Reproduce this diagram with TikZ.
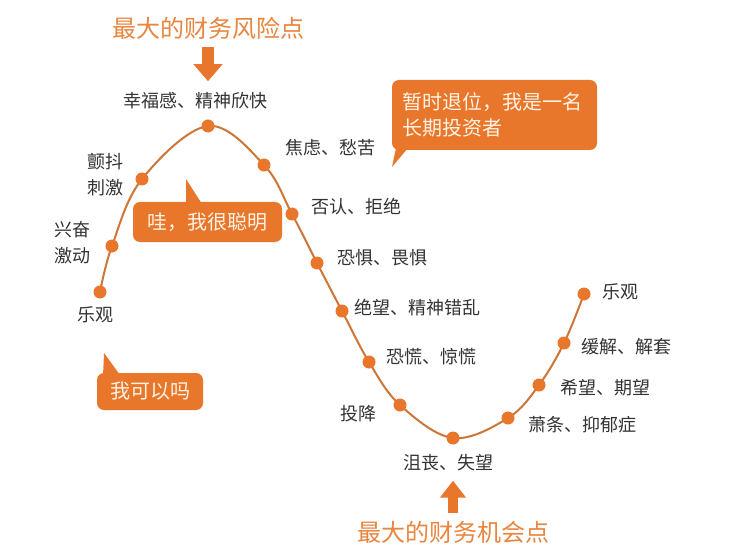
\documentclass[tikz,border=0pt]{standalone}
\usepackage{fontspec}
\setmainfont{Noto Sans CJK SC}
\usetikzlibrary{arrows.meta,positioning,backgrounds}
\definecolor{tangerine}{HTML}{E8762B}
\definecolor{rust}{HTML}{CC7638}
\definecolor{apricot}{HTML}{E8853F}
\definecolor{ink}{HTML}{333333}
\definecolor{cream}{HTML}{FFF4E6}
\tikzset{
  stagedot/.style={circle, fill=tangerine, inner sep=0pt, minimum size=13pt},
  mood/.style={font=\fontsize{18}{26}\selectfont, text=ink,
    inner sep=0pt, align=center},
  headline/.style={font=\fontsize{24}{28}\selectfont, text=apricot,
    inner sep=0pt},
  bubble/.style={rectangle, rounded corners=7pt, fill=tangerine,
    text=cream, font=\fontsize{20}{26}\selectfont, inner sep=0pt,
    align=center},
  bubbletail/.style={fill=tangerine},
  bigarrow/.style={-{Triangle[width=#1, length=17pt]}, line width=12pt,
    draw=tangerine},
  bigarrow/.default=28pt,
  curve/.style={draw=rust, line width=2pt},
}

\begin{document}
\begin{tikzpicture}[x=1pt, y=-1pt]

\path[use as bounding box] (0,0) rectangle (743,553);

% Stages along the cycle
\foreach \x/\y [count=\i] in {100/292, 112/246, 142/179, 208/126, 264/165,
    292/214, 317/263, 342/311, 369/362, 400/405, 453/438, 508/418,
    539/385, 564/343, 584/294}
  \node[stagedot] (d\i) at (\x,\y) {};

\begin{scope}[on background layer]
  \fill[white] (0,0) rectangle (743,553);
  \draw[curve] plot[smooth, tension=0.6] coordinates {(d1.center) (d2.center)
    (d3.center) (d4.center) (d5.center) (d6.center) (d7.center) (d8.center)
    (d9.center) (d10.center) (d11.center) (d12.center) (d13.center)
    (d14.center) (d15.center)};
\end{scope}

% Stage labels
\node[mood, below=8pt of d1, xshift=-5pt] (l1) {乐观};
\node[mood, left=15pt of d2, yshift=3pt] (l2) {兴奋\\激动};
\node[mood, left=12pt of d3, yshift=4pt] (l3) {颤抖\\刺激};
\node[mood, above=10pt of d4, xshift=-13pt] (l4) {幸福感、精神欣快};
\node[mood, right=15pt of d5, yshift=17pt] (l5) {焦虑、愁苦};
\node[mood, right=13pt of d6, yshift=7pt] (l6) {否认、拒绝};
\node[mood, right=14pt of d7, yshift=5pt] (l7) {恐惧、畏惧};
\node[mood, right=6pt of d8, yshift=3pt] (l8) {绝望、精神错乱};
\node[mood, right=11pt of d9, yshift=5pt] (l9) {恐慌、惊慌};
\node[mood, left=17pt of d10, yshift=-9pt] (l10) {投降};
\node[mood, below=9pt of d11, xshift=-5pt] (l11) {沮丧、失望};
\node[mood, right=14pt of d12, yshift=-7pt] (l12) {萧条、抑郁症};
\node[mood, right=15pt of d13, yshift=-3pt] (l13) {希望、期望};
\node[mood, right=11pt of d14, yshift=-4pt] (l14) {缓解、解套};
\node[mood, right=12pt of d15, yshift=2pt] (l15) {乐观};

% Risk and chance points
\node[headline] (risk) at (208,28) {最大的财务风险点};
\node[headline] (chance) at (453,532) {最大的财务机会点};
\draw[bigarrow, shorten <=8pt, shorten >=11pt]
  (risk.south) -- (risk.south |- l4.north);
\draw[bigarrow=25pt, line width=10pt, shorten <=8pt, shorten >=10pt]
  (chance.north) -- (chance.north |- l11.south);

% Speech bubbles
\fill[bubbletail] (186,179) -- (186,204) -- (202,204) -- cycle;
\node[bubble, minimum width=149pt, minimum height=40pt] (wow)
  at (207.5,222) {哇，我很聪明};

\fill[bubbletail] (104,353) -- (103,376) -- (120,375) -- cycle;
\node[bubble, minimum width=106pt, minimum height=37pt] (canido)
  at (150,391.5) {我可以吗};

\fill[bubbletail] (392,167) -- (396,148) -- (408,148) -- cycle;
\node[bubble, align=left, text width=184pt, inner xsep=10.5pt,
  minimum height=70pt] (holder) at (494.5,115)
  {暂时退位，我是一名\\长期投资者};

\end{tikzpicture}
\end{document}
